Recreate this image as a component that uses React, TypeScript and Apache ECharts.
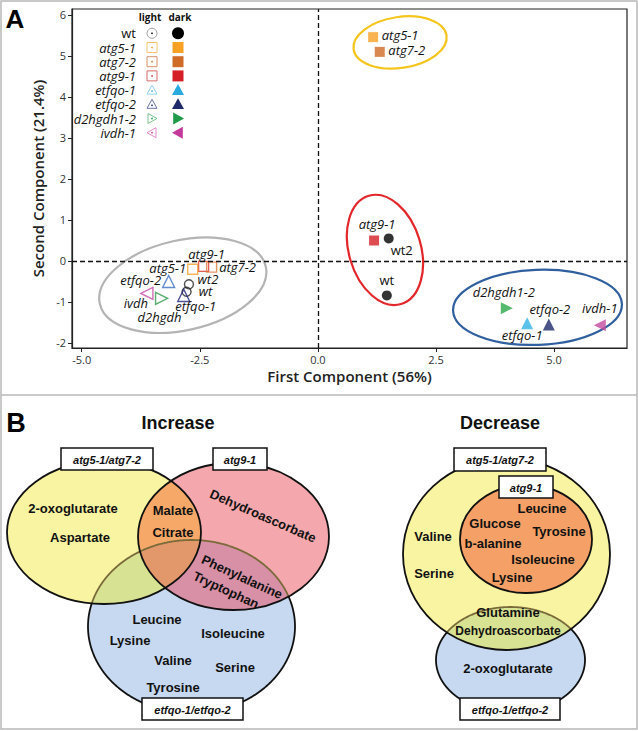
import React, { useEffect, useRef } from 'react';
import * as echarts from 'echarts';

// ---------------- Panel A data ----------------
const legendNames = ['wt', 'atg5-1', 'atg7-2', 'atg9-1', 'etfqo-1', 'etfqo-2', 'd2hgdh1-2', 'ivdh-1'];
const legendShapes = ['circle', 'square', 'square', 'square', 'triUp', 'triUp', 'triRight', 'triLeft'];
const legendDarkColors = ['#000000', '#f7a125', '#cf6a27', '#d41f26', '#29abe2', '#1f2a6b', '#1e9a48', '#c43a9a'];
const legendLightColors = ['#777777', '#f6c46e', '#d9926a', '#d96b6b', '#8fd3f2', '#6d73a8', '#7cc48f', '#e08cc8'];

const darkNames = ['atg5-1', 'atg7-2', 'atg9-1', 'wt2', 'wt', 'd2hgdh1-2', 'etfqo-1', 'etfqo-2', 'ivdh-1'];
const darkX = [1.17, 1.31, 1.19, 1.5, 1.46, 4.0, 4.43, 4.89, 5.97];
const darkY = [5.46, 5.1, 0.5, 0.55, -0.84, -1.15, -1.52, -1.55, -1.57];
const darkShapes = ['square', 'square', 'square', 'circle', 'circle', 'triRight', 'triUp', 'triUp', 'triLeft'];
const darkColors = ['#f7a125', '#cf6a27', '#d41f26', '#000000', '#000000', '#2aa84a', '#34b3e4', '#1f2a6b', '#c44a9f'];
const darkLabelOffsets = [[27, -2], [27, -2], [3, -16], [13, 12], [0, -15], [-3, -16], [-5, 12], [1, -16], [0, -17]];
const darkItalic = [true, true, true, false, false, true, true, true, true];

const lightNames = ['atg9-1', 'atg5-1', 'atg7-2', 'etfqo-2', 'wt2', 'wt', 'ivdh', 'd2hgdh', 'etfqo-1'];
const lightX = [-2.42, -2.65, -2.25, -3.16, -2.73, -2.78, -3.62, -3.31, -2.84];
const lightY = [-0.13, -0.2, -0.15, -0.5, -0.57, -0.75, -0.79, -0.91, -0.84];
const lightShapes = ['square', 'square', 'square', 'triUp', 'circle', 'circle', 'triLeft', 'triRight', 'triUp'];
const lightColors = ['#d9342b', '#f5a030', '#e07a3c', '#3b6fc2', '#222222', '#222222', '#c64aa5', '#2e9a4a', '#23287a'];
const lightLabelOffsets = [[3, -12], [-25, -1], [26, 0], [-28, -1], [19, -5], [19, -1], [-11, 10], [-2, 19], [12, 11]];

const xTickValues = [-5, -2.5, 0, 2.5, 5];
const yTickValues = [-2, -1, 0, 1, 2, 3, 4, 5, 6];

// cluster ellipses: centre in data units
const clusterX = [-2.86, 1.42, 4.65, 1.74];
const clusterY = [-0.59, 0.27, -1.13, 5.33];
const clusterStyle = [
  { rx: 85, ry: 45, rot: 0.22, color: '#b4b4b4' },
  { rx: 36, ry: 56.5, rot: 0.29, color: '#e3262a' },
  { rx: 84.5, ry: 37.5, rot: 0.04, color: '#2f5f9e' },
  { rx: 47, ry: 25.5, rot: 0.15, color: '#f4c51c' },
];

// ---------------- Panel B data ----------------
const setNames = ['atg5-1/atg7-2', 'atg9-1', 'etfqo-1/etfqo-2'];
const incYellowOnly = ['2-oxoglutarate', 'Aspartate'];
const incYellowPink = ['Malate', 'Citrate'];
const incPinkOnly = ['Dehydroascorbate'];
const incPinkBlue = ['Phenylalanine', 'Tryptophan'];
const incBlueOnly = ['Leucine', 'Lysine', 'Isoleucine', 'Valine', 'Serine', 'Tyrosine'];

const decYellowOnly = ['Valine', 'Serine'];
const decOrange = ['Leucine', 'Glucose', 'Tyrosine', 'b-alanine', 'Isoleucine', 'Lysine'];
const decYellowBlue = ['Glutamine', 'Dehydroascorbate'];
const decBlueOnly = ['2-oxoglutarate'];

// layout (pixels)
const incYellowOnlyPos = [[73, 508], [80, 537]];
const incYellowPinkPos = [[173, 510], [173, 532]];
const incPinkOnlyPos = [[263, 516, -0.41]];
const incPinkBluePos = [[242, 577, -0.43], [226, 590, -0.43]];
const incBlueOnlyPos = [[157, 619], [130, 640], [233, 633], [173, 660], [235, 667], [173, 687]];
const decYellowOnlyPos = [[433, 536], [434, 573]];
const decOrangePos = [[542, 508], [495, 523], [559, 531], [493, 543], [543, 559], [512, 577]];
const decYellowBluePos = [[508, 612, 13], [508, 631, 12]];
const decBlueOnlyPos = [[508, 668]];
const incBoxes = [[61, 448, 92, 22], [213, 448, 54, 22], [142, 698, 101, 22]];
const decBoxes = [[454, 448, 92, 23], [499, 476, 54, 22], [460, 698, 100, 22]];

type Ell = { cx: number; cy: number; rx: number; ry: number };
const incY: Ell = { cx: 104, cy: 532.5, rx: 97, ry: 71.5 };
const incP: Ell = { cx: 233.5, cy: 536.5, rx: 95.5, ry: 73.5 };
const incB: Ell = { cx: 191.5, cy: 626.5, rx: 103.5, ry: 86.5 };
const decY: Ell = { cx: 506.5, cy: 554, rx: 103.5, ry: 96 };
const decO: Ell = { cx: 526, cy: 539, rx: 66, ry: 54 };
const decB: Ell = { cx: 510.5, cy: 660, rx: 74.5, ry: 53 };

const C = {
  yellow: '#f8f4a2', pink: '#f4a8ad', blue: '#c7d9f0', yp: '#f5a868', yb: '#d8e293',
  pb: '#d890a6', ypb: '#e2986a', orange: '#f4a066', dim: '#7a6a3a',
};

// ---------------- helpers ----------------
const N = 720;
function ellPts(e: Ell): number[][] {
  const out: number[][] = [];
  for (let i = 0; i < N; i++) {
    const t = (i / N) * 2 * Math.PI;
    out.push([e.cx + e.rx * Math.cos(t), e.cy + e.ry * Math.sin(t)]);
  }
  return out;
}
const inEll = (e: Ell, p: number[]) => ((p[0] - e.cx) / e.rx) ** 2 + ((p[1] - e.cy) / e.ry) ** 2 <= 1.0001;
function interPoly(es: Ell[]) {
  const pts: number[][] = [];
  es.forEach((e, i) => ellPts(e).forEach((p) => {
    if (es.every((o, j) => j === i || inEll(o, p))) pts.push(p);
  }));
  let cx = 0, cy = 0;
  pts.forEach((p) => { cx += p[0] / pts.length; cy += p[1] / pts.length; });
  pts.sort((a, b) => Math.atan2(a[1] - cy, a[0] - cx) - Math.atan2(b[1] - cy, b[0] - cx));
  return { type: 'polygon', silent: true, shape: { points: pts } };
}
function fillEll(e: Ell, fill: string) {
  return { type: 'ellipse', silent: true, shape: { ...e }, style: { fill, stroke: null } };
}
function strokeEll(e: Ell, lw = 1.8) {
  return { type: 'ellipse', silent: true, shape: { ...e }, style: { fill: null, stroke: '#111', lineWidth: lw } };
}
function segStroke(e: Ell, others: Ell[], inColor: string, outColor: string, lw = 1.8) {
  const pts = ellPts(e);
  const st = pts.map((p) => others.some((o) => inEll(o, p)));
  let start = st.findIndex((s, i) => s !== st[(i + N - 1) % N]);
  if (start < 0) start = 0;
  const segs: { p: number[][]; s: boolean }[] = [];
  let cur = [pts[start]];
  let cs = st[start];
  for (let k = 1; k <= N; k++) {
    const i = (start + k) % N;
    cur.push(pts[i]);
    if (st[i] !== cs) { segs.push({ p: cur, s: cs }); cur = [pts[i]]; cs = st[i]; }
  }
  segs.push({ p: cur, s: cs });
  return segs.map((sg) => ({
    type: 'polyline', silent: true, shape: { points: sg.p },
    style: { fill: null, stroke: sg.s ? inColor : outColor, lineWidth: lw },
  }));
}
const ARIAL = '"Liberation Sans", Arial, sans-serif';
function txt(t: string, x: number, y: number, size = 13, rot = 0, extra: any = {}) {
  return {
    type: 'text', silent: true, x, y, rotation: rot,
    style: {
      text: t, fill: '#111', font: `bold ${size}px ${ARIAL}`, lineHeight: size,
      align: 'center', verticalAlign: 'middle', textAlign: 'center', textVerticalAlign: 'middle', ...extra,
    },
  };
}
function box(b: number[], label: string) {
  return [
    { type: 'rect', silent: true, shape: { x: b[0], y: b[1], width: b[2], height: b[3] }, style: { fill: '#fff', stroke: '#111', lineWidth: 1.5 } },
    txt(label, b[0] + b[2] / 2, b[1] + b[3] / 2 + 0.5, 11, 0, { font: `italic bold 11px ${ARIAL}` }),
  ];
}
function shapeEl(kind: string, x: number, y: number, s: number, fill: string, stroke: string, lw: number) {
  const h = s / 2;
  const style = { fill, stroke, lineWidth: lw };
  if (kind === 'circle') return { type: 'circle', silent: true, shape: { cx: x, cy: y, r: h }, style };
  if (kind === 'square') return { type: 'rect', silent: true, shape: { x: x - h, y: y - h, width: s, height: s }, style };
  let pts: number[][];
  if (kind === 'triUp') pts = [[x, y - h], [x + h, y + h * 0.8], [x - h, y + h * 0.8]];
  else if (kind === 'triRight') pts = [[x - h * 0.8, y - h], [x + h, y], [x - h * 0.8, y + h]];
  else pts = [[x + h * 0.8, y - h], [x - h, y], [x + h * 0.8, y + h]];
  return { type: 'polygon', silent: true, shape: { points: pts }, style };
}
function symbolOf(kind: string) {
  if (kind === 'circle') return { symbol: 'circle', symbolRotate: 0 };
  if (kind === 'square') return { symbol: 'rect', symbolRotate: 0 };
  if (kind === 'triUp') return { symbol: 'triangle', symbolRotate: 0 };
  if (kind === 'triRight') return { symbol: 'triangle', symbolRotate: -90 };
  return { symbol: 'triangle', symbolRotate: 90 };
}

function buildOption() {
  const SANS = '"Open Sans", "Noto Sans", sans-serif';
  const darkData = darkNames.map((n, i) => {
    const s = symbolOf(darkShapes[i]);
    return {
      name: n, value: [darkX[i], darkY[i]], ...s,
      symbolSize: darkShapes[i].startsWith('tri') ? 12 : 10,
      itemStyle: { color: darkColors[i] },
      label: { offset: darkLabelOffsets[i], fontStyle: darkItalic[i] ? 'italic' : 'normal' },
    };
  });
  const lightData = lightNames.map((n, i) => {
    const s = symbolOf(lightShapes[i]);
    return {
      name: n, value: [lightX[i], lightY[i]], ...s,
      symbolSize: lightShapes[i].startsWith('tri') ? 12 : lightShapes[i] === 'circle' ? 9 : 10,
      itemStyle: { color: 'rgba(255,255,255,0)', borderColor: lightColors[i], borderWidth: 1.4 },
      label: { offset: lightLabelOffsets[i] },
    };
  });
  const labelBase = {
    show: true, position: 'inside', formatter: '{b}', color: '#111', fontSize: 13, lineHeight: 11,
    fontFamily: SANS, fontStyle: 'italic', fontWeight: 'normal', textBorderWidth: 0, opacity: 1,
    align: 'center', verticalAlign: 'middle',
  };

  // legend graphics
  const hdr = (t: string, x: number) => ({
    type: 'text', silent: true, x, y: 17,
    style: { text: t, font: `bold 10px ${SANS}`, fill: '#111', align: 'center', verticalAlign: 'middle', textAlign: 'center', textVerticalAlign: 'middle' },
  });
  const legend: any[] = [hdr('light', 150), hdr('dark', 180)];
  legendNames.forEach((n, i) => {
    const y = 33.3 + i * 14.2;
    legend.push({
      type: 'text', silent: true, x: 136, y,
      style: { text: n, font: `${i === 0 ? '' : 'italic '}13px ${SANS}`, lineHeight: 12, fill: '#111', align: 'right', verticalAlign: 'middle', textAlign: 'right', textVerticalAlign: 'middle' },
    });
    const k = legendShapes[i];
    legend.push(shapeEl(k, 152, y, 10, 'rgba(255,255,255,0)', legendLightColors[i], i === 0 ? 0.7 : 1));
    legend.push({ type: 'circle', silent: true, shape: { cx: 152, cy: y + (k === 'triUp' ? 1 : 0), r: 0.8 }, style: { fill: legendDarkColors[i] } });
    legend.push(shapeEl(k, 178, y, k === 'square' ? 11 : 12, legendDarkColors[i], null as any, 0));
  });

  // Venn: Increase
  const inc: any[] = [
    fillEll(incY, C.yellow), fillEll(incP, C.pink), fillEll(incB, C.blue),
    { ...interPoly([incY, incP]), style: { fill: C.yp } },
    { ...interPoly([incY, incB]), style: { fill: C.yb } },
    { ...interPoly([incP, incB]), style: { fill: C.pb } },
    { ...interPoly([incY, incP, incB]), style: { fill: C.ypb } },
    ...segStroke(incB, [incY, incP], C.dim, '#111'),
    strokeEll(incY), strokeEll(incP),
  ];
  incYellowOnly.forEach((t, i) => inc.push(txt(t, incYellowOnlyPos[i][0], incYellowOnlyPos[i][1])));
  incYellowPink.forEach((t, i) => inc.push(txt(t, incYellowPinkPos[i][0], incYellowPinkPos[i][1])));
  incPinkOnly.forEach((t, i) => inc.push(txt(t, incPinkOnlyPos[i][0], incPinkOnlyPos[i][1], 13, incPinkOnlyPos[i][2])));
  incPinkBlue.forEach((t, i) => inc.push(txt(t, incPinkBluePos[i][0], incPinkBluePos[i][1], 13, incPinkBluePos[i][2])));
  incBlueOnly.forEach((t, i) => inc.push(txt(t, incBlueOnlyPos[i][0], incBlueOnlyPos[i][1])));
  setNames.forEach((s, i) => inc.push(...box(incBoxes[i], s)));

  // Venn: Decrease
  const dec: any[] = [
    fillEll(decY, C.yellow), fillEll(decB, C.blue),
    { ...interPoly([decY, decB]), style: { fill: C.yb } },
    fillEll(decO, C.orange),
    ...segStroke(decB, [decY], C.dim, '#111'),
    strokeEll(decY), strokeEll(decO),
  ];
  decYellowOnly.forEach((t, i) => dec.push(txt(t, decYellowOnlyPos[i][0], decYellowOnlyPos[i][1])));
  decOrange.forEach((t, i) => dec.push(txt(t, decOrangePos[i][0], decOrangePos[i][1])));
  decYellowBlue.forEach((t, i) => dec.push(txt(t, decYellowBluePos[i][0], decYellowBluePos[i][1], decYellowBluePos[i][2])));
  decBlueOnly.forEach((t, i) => dec.push(txt(t, decBlueOnlyPos[i][0], decBlueOnlyPos[i][1])));
  setNames.forEach((s, i) => dec.push(...box(decBoxes[i], s)));

  const frame: any[] = [
    { type: 'rect', silent: true, shape: { x: 1, y: 1, width: 636, height: 728 }, style: { fill: null, stroke: '#b8b8b8', lineWidth: 1.5 } },
    { type: 'line', silent: true, shape: { x1: 1, y1: 395, x2: 637, y2: 395 }, style: { stroke: '#b8b8b8', lineWidth: 1.5 } },
    txt('A', 15, 19, 26, 0, { fill: '#000' }),
    txt('B', 16, 423, 27, 0, { fill: '#000' }),
    txt('Increase', 178, 423, 18),
    txt('Decrease', 500, 423, 18),
  ];

  return {
    animation: false,
    backgroundColor: '#ffffff',
    grid: { left: 72, right: 11, top: 9, bottom: 383, show: true, borderColor: '#222', borderWidth: 1.2, backgroundColor: 'transparent' },
    xAxis: {
      type: 'value', min: -5.206, max: 6.545,
      name: 'First Component (56%)', nameLocation: 'middle', nameGap: 20,
      nameTextStyle: { fontSize: 15, fontWeight: 600, color: '#222', fontFamily: SANS },
      axisLine: { show: true, onZero: false, lineStyle: { color: '#222', width: 1.2 } },
      axisTick: { show: true, length: 4, customValues: xTickValues, lineStyle: { color: '#222' } },
      axisLabel: { customValues: xTickValues, formatter: (v: number) => v.toFixed(1), fontSize: 11, color: '#333', fontFamily: SANS, margin: 6 },
      splitLine: { show: false },
    },
    yAxis: {
      type: 'value', min: -2.122, max: 6.146,
      name: 'Second Component (21.4%)', nameLocation: 'middle', nameGap: 22,
      nameTextStyle: { fontSize: 15, fontWeight: 600, color: '#222', fontFamily: SANS },
      axisLine: { show: true, onZero: false, lineStyle: { color: '#222', width: 1.2 } },
      axisTick: { show: true, length: 4, customValues: yTickValues, lineStyle: { color: '#222' } },
      axisLabel: { customValues: yTickValues, formatter: (v: number) => String(v), fontSize: 11, color: '#333', fontFamily: SANS, margin: 6 },
      splitLine: { show: false },
    },
    series: [
      {
        type: 'custom', silent: true, clip: false, z: 1,
        data: clusterX.map((x, i) => [x, clusterY[i]]),
        renderItem: (params: any, api: any) => {
          const c = api.coord([api.value(0), api.value(1)]);
          const st = clusterStyle[params.dataIndex];
          return {
            type: 'ellipse', x: c[0], y: c[1], rotation: st.rot,
            shape: { cx: 0, cy: 0, rx: st.rx, ry: st.ry },
            style: { fill: 'none', stroke: st.color, lineWidth: 2.2 },
          };
        },
      },
      {
        type: 'scatter', name: 'light', z: 3, data: lightData, label: labelBase,
        emphasis: { disabled: true },
        markLine: {
          silent: true, symbol: ['none', 'none'], label: { show: false },
          lineStyle: { type: [5, 3], color: '#111', width: 1.3 },
          data: [{ xAxis: 0 }, { yAxis: 0 }],
        },
      },
      { type: 'scatter', name: 'dark', z: 4, data: darkData, label: labelBase, emphasis: { disabled: true } },
    ],
    graphic: { elements: [...frame, ...legend, ...inc, ...dec] },
  };
}

export default function App() {
  const ref = useRef<HTMLDivElement>(null);
  useEffect(() => {
    const chart = echarts.init(ref.current as HTMLDivElement, null, { renderer: 'svg' });
    chart.setOption(buildOption() as any);
    return () => chart.dispose();
  }, []);
  return <div ref={ref} style={{ position: 'absolute', left: 0, top: 0, width: 638, height: 731 }} />;
}
